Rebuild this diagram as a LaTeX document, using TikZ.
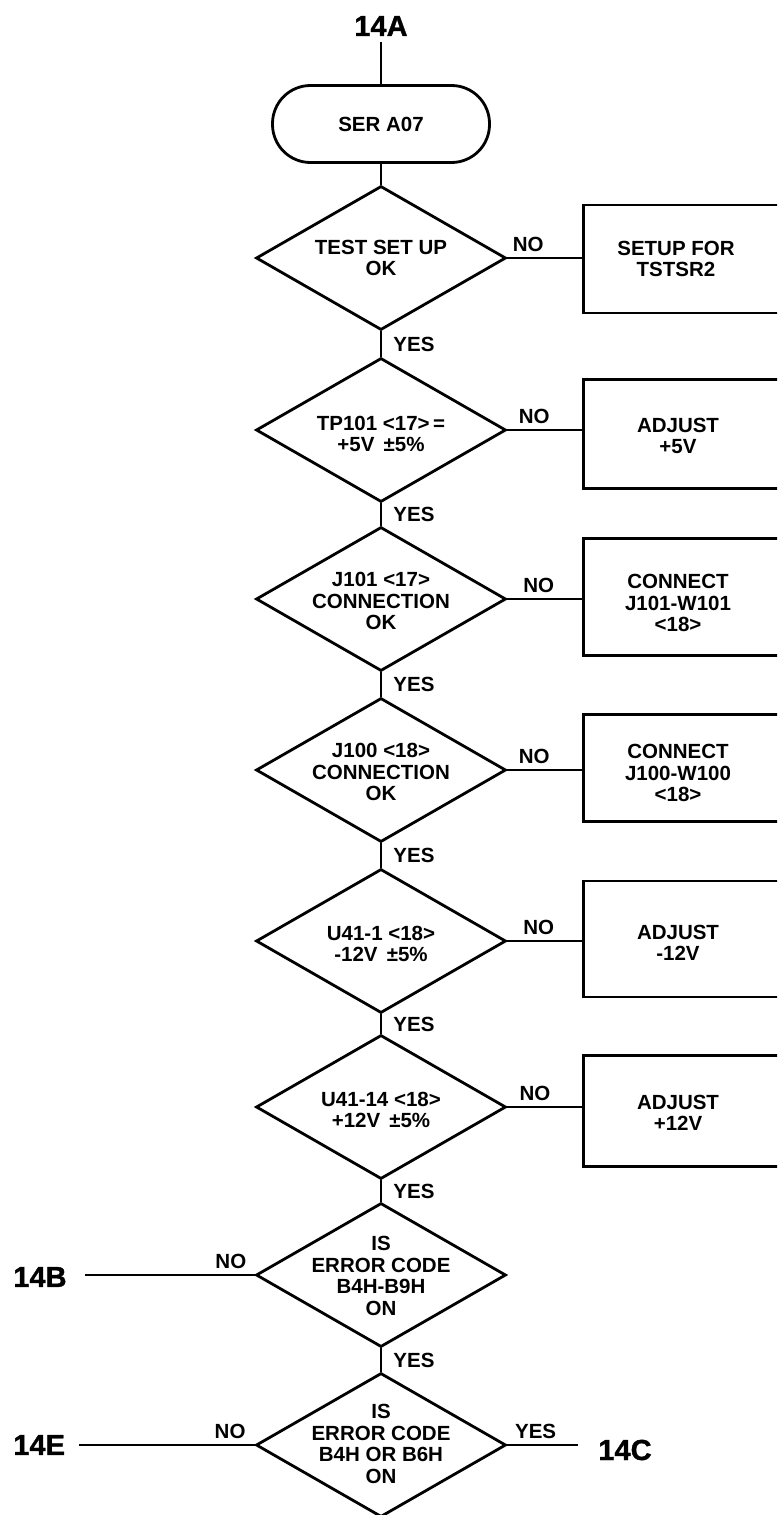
\documentclass[tikz,border=0pt]{standalone}
\usepackage{fontspec}
\setmainfont{Liberation Sans}
\newfontfamily\heavyfont{Liberation Sans Bold}[FakeBold=1.2]
\usetikzlibrary{shapes.geometric}
\begin{document}
\begin{tikzpicture}[x=1pt,y=-1pt,line width=2.8pt,
  dec/.style={diamond,draw,minimum width=250pt,minimum height=144pt,inner sep=0pt,line join=miter},
  actbox/.style={rectangle,draw,minimum width=240pt,inner sep=0pt,anchor=west},
  term/.style={rectangle,draw,rounded corners=38pt,minimum width=217pt,minimum height=77pt,inner sep=0pt},
  txt/.style={font=\fontsize{20.5}{21.5}\selectfont\bfseries,align=center,inner sep=0pt},
  lab/.style={font=\fontsize{20.5}{22}\selectfont\bfseries,inner sep=0pt},
  big/.style={font=\fontsize{29}{30}\heavyfont,inner sep=0pt}]
\clip (0,0) rectangle (777,1515);

% connectors labels 14x
\node[big] (k14a) at (381,26) {14A};
\node[big,anchor=west] (k14b) at (12,1277) {14B};
\node[big,anchor=west] (k14e) at (12,1445) {14E};
\node[big,anchor=west] (k14c) at (597,1450) {14C};

% terminal
\node[term] (ser) at (381,124) {};
\node[txt] (tser) at (ser.center) {SER A07};

% decisions
\node[dec] (d1) at (381,258) {};
\node[dec] (d2) at (381,430) {};
\node[dec] (d3) at (381,599) {};
\node[dec] (d4) at (381,770) {};
\node[dec] (d5) at (381,941) {};
\node[dec] (d6) at (381,1107) {};
\node[dec] (d7) at (381,1275) {};
\node[dec] (d8) at (381,1445) {};

\node[txt] (t1) at (381,258) {TEST SET UP\\OK};
\node[txt] (t2) at (381,434) {TP101 <17>\,=\\+5V \,±5\%};
\node[txt] (t3) at (381,601) {J101 <17>\\CONNECTION\\OK};
\node[txt] (t4) at (381,772) {J100 <18>\\CONNECTION\\OK};
\node[txt] (t5) at (381,944) {U41-1 <18>\\-12V \,±5\%};
\node[txt] (t6) at (381,1110) {U41-14 <18>\\+12V \,±5\%};
\node[txt] (t7) at (381,1276) {IS\\ERROR CODE\\B4H-B9H\\ON};
\node[txt] (t8) at (381,1444) {IS\\ERROR CODE\\B4H OR B6H\\ON};

% action boxes
\node[actbox,minimum height=108pt] (b1) at (582,259) {};
\node[actbox,minimum height=109pt] (b2) at (582,434) {};
\node[actbox,minimum height=117pt] (b3) at (582,597) {};
\node[actbox,minimum height=107pt] (b4) at (582,768) {};
\node[actbox,minimum height=116pt] (b5) at (582,939) {};
\node[actbox,minimum height=111pt] (b6) at (582,1111) {};

\node[txt] (s1) at (676,259) {SETUP FOR\\TSTSR2};
\node[txt] (s2) at (678,436) {ADJUST\\+5V};
\node[txt] (s3) at (678,603) {CONNECT\\J101-W101\\<18>};
\node[txt] (s4) at (678,773) {CONNECT\\J100-W100\\<18>};
\node[txt] (s5) at (678,943) {ADJUST\\-12V};
\node[txt] (s6) at (678,1113) {ADJUST\\+12V};

% main spine
\draw[shorten <=5pt] (k14a.south) -- (ser.north);
\draw (ser.south) -- (d1.north);
\draw (d1.south) -- node[lab,right=11pt] (y1) {YES} (d2.north);
\draw (d2.south) -- node[lab,right=11pt] (y2) {YES} (d3.north);
\draw (d3.south) -- node[lab,right=11pt] (y3) {YES} (d4.north);
\draw (d4.south) -- node[lab,right=11pt] (y4) {YES} (d5.north);
\draw (d5.south) -- node[lab,right=11pt] (y5) {YES} (d6.north);
\draw (d6.south) -- node[lab,right=11pt] (y6) {YES} (d7.north);
\draw (d7.south) -- node[lab,right=11pt] (y7) {YES} (d8.north);

% NO branches to boxes
\draw (d1.east) -- node[lab,above=5pt,pos=0.28] (n1) {NO} (d1.east -| b1.west);
\draw (d2.east) -- node[lab,above=5pt,pos=0.36] (n2) {NO} (d2.east -| b2.west);
\draw (d3.east) -- node[lab,above=5pt,pos=0.42] (n3) {NO} (d3.east -| b3.west);
\draw (d4.east) -- node[lab,above=5pt,pos=0.36] (n4) {NO} (d4.east -| b4.west);
\draw (d5.east) -- node[lab,above=5pt,pos=0.42] (n5) {NO} (d5.east -| b5.west);
\draw (d6.east) -- node[lab,above=5pt,pos=0.37] (n6) {NO} (d6.east -| b6.west);

% off-page connectors
\draw ([xshift=17pt]k14b.east |- d7.west) -- node[lab,above=5pt,pos=0.86] (n7) {NO} (d7.west);
\draw ([xshift=13pt]k14e.east |- d8.west) -- node[lab,above=5pt,pos=0.86] (n8) {NO} (d8.west);
\draw (d8.east) -- node[lab,above=5pt,pos=0.4] (y8) {YES} ([xshift=-19pt]k14c.west |- d8.east);
\end{tikzpicture}
\end{document}
